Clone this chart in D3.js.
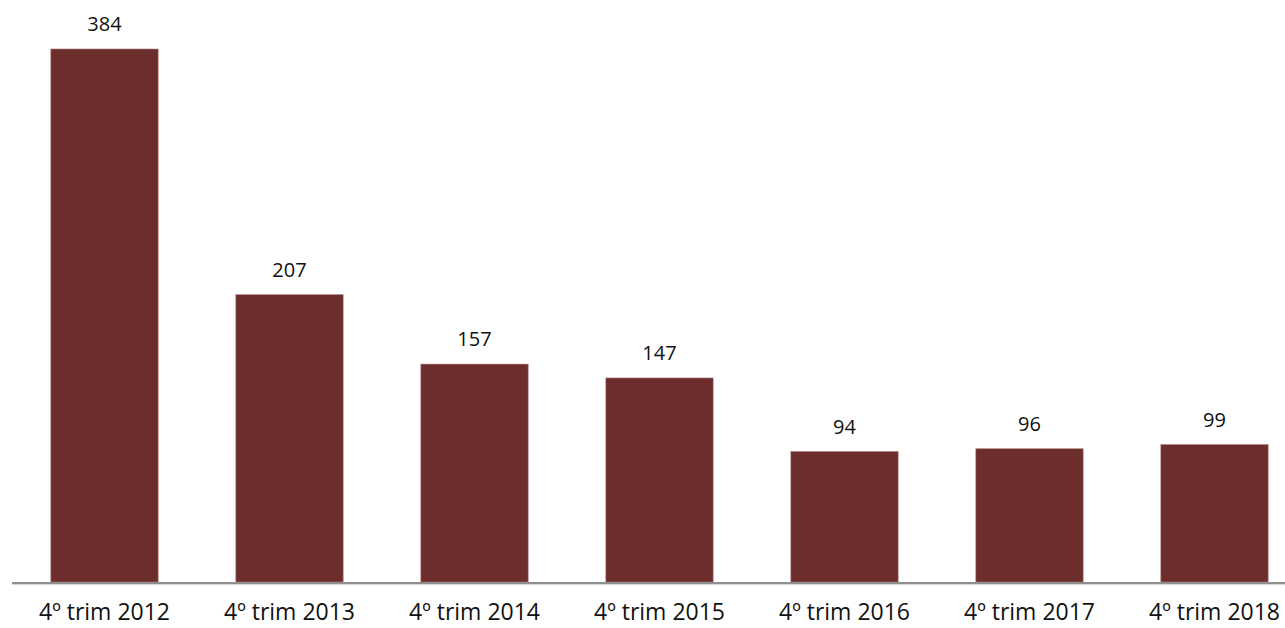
<!DOCTYPE html>
<html>
<head>
<meta charset="utf-8">
<script src="https://cdn.jsdelivr.net/npm/d3@7"></script>
<style>
  html, body { margin: 0; padding: 0; background: #ffffff; }
  svg { display: block; }
</style>
</head>
<body>
<svg id="chart" width="1285" height="628"></svg>
<script>
const categories = ["4º trim 2012", "4º trim 2013", "4º trim 2014", "4º trim 2015", "4º trim 2016", "4º trim 2017", "4º trim 2018"];
const values = [384, 207, 157, 147, 94, 96, 99];
const valueLabels = ["384", "207", "157", "147", "94", "96", "99"];

const W = 1285, H = 628;
const baseline = 582;
const svg = d3.select("#chart");

const x = d3.scaleBand()
  .domain(categories)
  .range([12, 1307])
  .paddingInner(0.42)
  .paddingOuter(0.21);

const y = d3.scaleLinear()
  .domain([0, 384])
  .range([baseline, 49]);

const font = "'Open Sans', 'Noto Sans', sans-serif";

svg.append("g").selectAll("rect")
  .data(values)
  .join("rect")
  .attr("x", (d, i) => x(categories[i]))
  .attr("y", d => y(d))
  .attr("width", x.bandwidth())
  .attr("height", d => baseline - y(d))
  .attr("fill", "#6E2D2D")
  .attr("stroke", "#a77c7b")
  .attr("stroke-width", 0.6);

svg.append("g").selectAll("text")
  .data(values)
  .join("text")
  .attr("x", (d, i) => x(categories[i]) + x.bandwidth() / 2)
  .attr("y", d => y(d) - 18)
  .attr("text-anchor", "middle")
  .attr("font-family", font)
  .attr("font-size", 20)
  .attr("fill", "#111")
  .text((d, i) => valueLabels[i]);

// axis
const axis = d3.axisBottom(x).tickSize(0).tickPadding(0);
const gAxis = svg.append("g").attr("transform", `translate(0,${baseline})`).call(axis);
gAxis.select(".domain").remove();
gAxis.selectAll("text")
  .attr("font-family", font)
  .attr("font-size", 23)
  .attr("fill", "#111")
  .attr("dy", null)
  .attr("y", 38);

svg.append("line")
  .attr("x1", 12).attr("x2", W)
  .attr("y1", baseline + 1).attr("y2", baseline + 1)
  .attr("stroke", "#8f8f8f")
  .attr("stroke-width", 2);
svg.append("line")
  .attr("x1", 12).attr("x2", W)
  .attr("y1", baseline + 2.5).attr("y2", baseline + 2.5)
  .attr("stroke", "#d8d8d8")
  .attr("stroke-width", 1);
</script>
</body>
</html>
